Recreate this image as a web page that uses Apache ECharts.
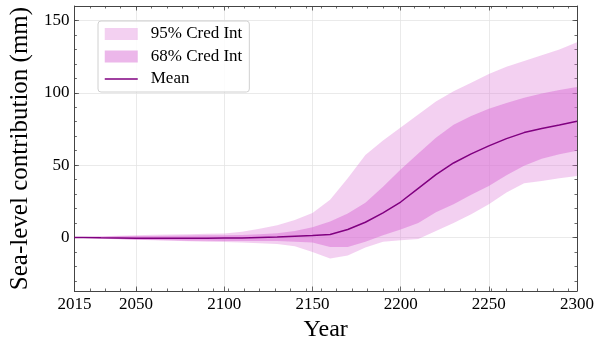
<!DOCTYPE html>
<html>
<head>
<meta charset="utf-8">
<script src="https://cdn.jsdelivr.net/npm/echarts@6/dist/echarts.min.js"></script>
<style>
html,body{margin:0;padding:0;background:#fff;}
#chart{width:600px;height:347px;}
</style>
</head>
<body>
<div id="chart"></div>
<script>
// ---- data ----
const years = [2015,2020,2030,2040,2050,2060,2070,2080,2090,2100,2110,2120,2130,2140,2150,2160,2170,2180,2190,2200,2210,2220,2230,2240,2250,2260,2270,2280,2290,2300];
const meanVals = [0,0,-0.2,-0.3,-0.5,-0.6,-0.6,-0.5,-0.5,-0.4,-0.3,0,0.3,0.8,1.3,2.0,5.5,10.5,17,24.5,34,43.5,51.5,57.8,63.3,68.3,72.5,75.3,77.8,80.4];
const lo68 = [0,-0.2,-0.6,-1,-1.5,-1.8,-2,-2.2,-2.3,-2.5,-2.5,-2.5,-2.5,-3,-3.5,-6.5,-6.5,-3,1.5,5.5,10,17.5,23,29.5,35.5,43,49.5,54.5,57.5,60];
const hi68 = [0,0.2,0.5,0.8,1,1.1,1.2,1.4,1.6,1.6,1.7,2.3,3,4.5,7,11,16.5,24,35,47,58,69,78,84,89,93,96.5,99.5,102,104];
const lo95 = [0,-0.3,-0.8,-1.2,-1.5,-2,-2.3,-2.6,-3,-3.2,-3.5,-4,-4.5,-6,-10,-14.5,-12.5,-7,-3,-2,-1,4.5,10,16,23,31,37.5,39,41,42.5];
const hi95 = [0,0.3,0.8,1.2,1.5,1.8,2,2.3,2.5,2.8,4,6,8.5,12,17,26,41,57,67,76,85,94,101,107,113,118,122,126,130,135];
const xTickLabels = [2015,2050,2100,2150,2200,2250,2300];
const yTickLabels = [0,50,100,150];
const seriesNames = ['95% Cred Int','68% Cred Int','Mean'];
const xAxisTitle = 'Year';
const yAxisTitle = 'Sea-level contribution (mm)';

// ---- build ----
const FONT = '"Liberation Serif", "Times New Roman", serif';
const XMIN = 2015, XMAX = 2300, YMIN = -37, YMAX = 160;
const xMinor = []; for (let v = XMIN; v <= XMAX + 1e-9; v += 8.75) xMinor.push(v);
const yMinor = []; for (let v = -30; v <= YMAX; v += 10) yMinor.push(v);

const c95 = 'rgba(218,112,214,0.33)';
const c68 = 'rgba(218,112,214,0.5)';
const cMean = '#800080';
const frame = '#444';

function xAx(pos, ticks, len, showLine, showLabel, split) {
  return {
    type: 'value', min: XMIN, max: XMAX, position: pos, gridIndex: 0,
    axisLine: {show: showLine, onZero: false, lineStyle: {color: frame, width: 1}},
    axisTick: {show: true, inside: true, length: len, customValues: ticks, lineStyle: {color: frame, width: 0.8}},
    axisLabel: showLabel ? {show: true, customValues: ticks, formatter: (v) => String(v), fontFamily: FONT, fontSize: 17, color: '#000', margin: 5} : {show: false},
    splitLine: {show: split, lineStyle: {color: '#e4e4e4', width: 0.8}},
    name: showLabel ? xAxisTitle : '', nameLocation: 'middle', nameGap: 27,
    nameTextStyle: {fontFamily: FONT, fontSize: 24, color: '#000'}
  };
}
function yAx(pos, ticks, len, showLine, showLabel, split) {
  return {
    type: 'value', min: YMIN, max: YMAX, position: pos, gridIndex: 0,
    axisLine: {show: showLine, onZero: false, lineStyle: {color: frame, width: 1}},
    axisTick: {show: true, inside: true, length: len, customValues: ticks, lineStyle: {color: frame, width: 0.8}},
    axisLabel: showLabel ? {show: true, customValues: ticks, formatter: (v) => String(v), fontFamily: FONT, fontSize: 17, color: '#000', margin: 5} : {show: false},
    splitLine: {show: split, lineStyle: {color: '#e4e4e4', width: 0.8}},
    name: showLabel ? yAxisTitle : '', nameLocation: 'middle', nameGap: 39,
    nameTextStyle: {fontFamily: FONT, fontSize: 25, color: '#000'}
  };
}

function bandSeries(name, lo, hi, color) {
  return {
    name: name, type: 'custom', coordinateSystem: 'cartesian2d', xAxisIndex: 0, yAxisIndex: 0,
    itemStyle: {color: color}, silent: true,
    data: years.map((y, i) => [y, lo[i], hi[i]]),
    encode: {x: 0, y: [1, 2]},
    renderItem: function (params, api) {
      if (params.dataIndex !== 0) return null;
      const upper = [], lower = [];
      for (let i = 0; i < years.length; i++) {
        upper.push(api.coord([years[i], hi[i]]));
        lower.push(api.coord([years[i], lo[i]]));
      }
      const pts = upper.concat(lower.reverse());
      return {
        type: 'polygon',
        shape: {points: pts},
        style: {fill: color, stroke: null},
        clipPath: {type: 'rect', shape: {x: params.coordSys.x, y: params.coordSys.y, width: params.coordSys.width, height: params.coordSys.height}}
      };
    }
  };
}

const option = {
  animation: false,
  grid: {left: 62, right: 23, top: 6, bottom: 50, containLabel: false},
  xAxis: [
    xAx('bottom', xTickLabels, 4.5, true, true, true),
    xAx('top', xTickLabels, 4.5, true, false, false),
    xAx('bottom', xMinor, 2.5, false, false, false),
    xAx('top', xMinor, 2.5, false, false, false)
  ],
  yAxis: [
    yAx('left', yTickLabels, 4.5, true, true, true),
    yAx('right', yTickLabels, 4.5, true, false, false),
    yAx('left', yMinor, 2.5, false, false, false),
    yAx('right', yMinor, 2.5, false, false, false)
  ],
  legend: {
    orient: 'vertical', left: 98, top: 21,
    padding: [4.5, 7, 4.5, 6], itemGap: 5.5, itemWidth: 33, itemHeight: 12,
    backgroundColor: 'rgba(255,255,255,0.85)', borderColor: '#d0d0d0', borderWidth: 1, borderRadius: 3,
    textStyle: {fontFamily: FONT, fontSize: 17, color: '#000', padding: [0, 0, 0, 8]},
    data: [
      {name: seriesNames[0], icon: 'rect', itemStyle: {color: c95}},
      {name: seriesNames[1], icon: 'rect', itemStyle: {color: c68}},
      {name: seriesNames[2], itemStyle: {color: 'rgba(0,0,0,0)', borderWidth: 0, opacity: 0}, lineStyle: {color: cMean, width: 1.5}}
    ]
  },
  series: [
    bandSeries(seriesNames[0], lo95, hi95, c95),
    bandSeries(seriesNames[1], lo68, hi68, c68),
    {name: seriesNames[2], type: 'line', data: years.map((y, i) => [y, meanVals[i]]), symbol: 'none',
     lineStyle: {color: cMean, width: 1.5}, itemStyle: {color: cMean}, z: 5}
  ]
};
const chart = echarts.init(document.getElementById('chart'), null, {renderer: 'canvas'});
chart.setOption(option);
</script>
</body>
</html>
